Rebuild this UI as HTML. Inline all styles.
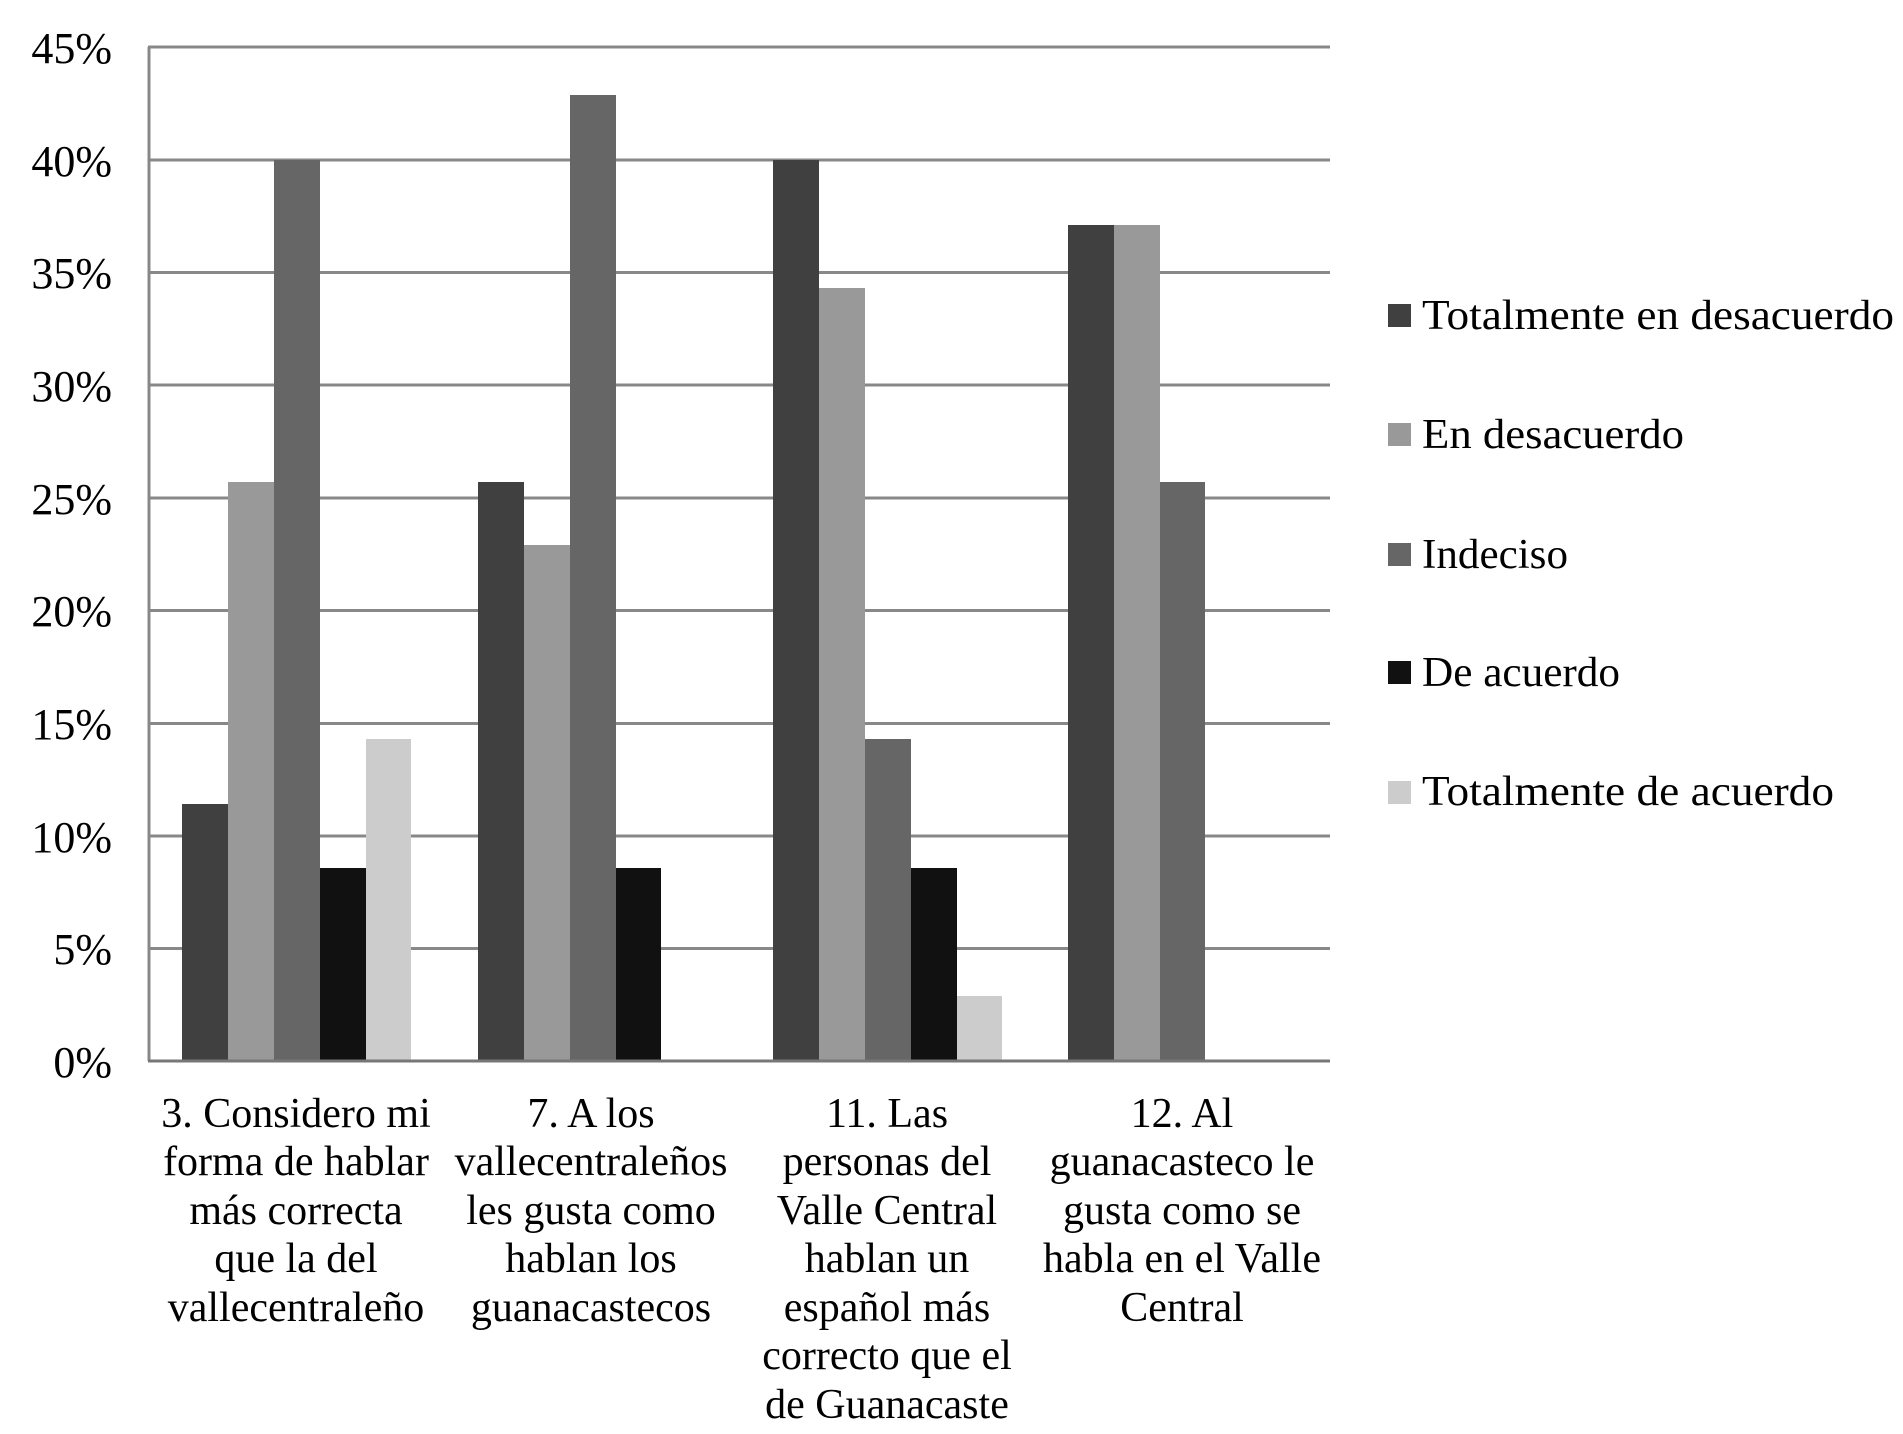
<!DOCTYPE html>
<html><head><meta charset="utf-8"><style>html,body{margin:0;padding:0;background:#fff}svg{display:block}text{font-family:"Liberation Serif",serif;fill:#000}</style></head><body>
<svg width="1903" height="1434" viewBox="0 0 1903 1434" xmlns="http://www.w3.org/2000/svg">
<g stroke="#888" stroke-width="3">
<line x1="148" y1="47" x2="1330" y2="47"/>
<line x1="148" y1="160" x2="1330" y2="160"/>
<line x1="148" y1="272.5" x2="1330" y2="272.5"/>
<line x1="148" y1="385" x2="1330" y2="385"/>
<line x1="148" y1="498" x2="1330" y2="498"/>
<line x1="148" y1="610.5" x2="1330" y2="610.5"/>
<line x1="148" y1="723.5" x2="1330" y2="723.5"/>
<line x1="148" y1="836" x2="1330" y2="836"/>
<line x1="148" y1="948.5" x2="1330" y2="948.5"/>
<line x1="149" y1="47" x2="149" y2="1061"/>
</g>
<g font-size="44" text-anchor="end">
<text x="112" y="63">45%</text><text x="112" y="176">40%</text><text x="112" y="288">35%</text><text x="112" y="401">30%</text><text x="112" y="514">25%</text><text x="112" y="626">20%</text><text x="112" y="739">15%</text><text x="112" y="852">10%</text><text x="112" y="964">5%</text><text x="112" y="1077">0%</text>
</g>
<g>
<rect x="182" y="804" width="46" height="257" fill="#404040"/>
<rect x="228" y="482" width="46" height="579" fill="#999"/>
<rect x="274" y="160" width="46" height="901" fill="#666"/>
<rect x="320" y="868" width="46" height="193" fill="#111"/>
<rect x="366" y="739" width="45" height="322" fill="#ccc"/>

<rect x="478" y="482" width="46" height="579" fill="#404040"/>
<rect x="524" y="545" width="46" height="516" fill="#999"/>
<rect x="570" y="95" width="46" height="966" fill="#666"/>
<rect x="616" y="868" width="45" height="193" fill="#111"/>

<rect x="773" y="160" width="46" height="901" fill="#404040"/>
<rect x="819" y="288" width="46" height="773" fill="#999"/>
<rect x="865" y="739" width="46" height="322" fill="#666"/>
<rect x="911" y="868" width="46" height="193" fill="#111"/>
<rect x="957" y="996" width="45" height="65" fill="#ccc"/>

<rect x="1068" y="225" width="46" height="836" fill="#404040"/>
<rect x="1114" y="225" width="46" height="836" fill="#999"/>
<rect x="1160" y="482" width="45" height="579" fill="#666"/>
</g>
<line x1="148" y1="1061" x2="1330" y2="1061" stroke="#777" stroke-width="3"/>
<g font-size="42" text-anchor="middle">
<text x="296" y="1127">3. Considero mi</text>
<text x="296" y="1175">forma de hablar</text>
<text x="296" y="1224">más correcta</text>
<text x="296" y="1272">que la del</text>
<text x="296" y="1321">vallecentraleño</text>

<text x="591" y="1127">7. A los</text>
<text x="591" y="1175">vallecentraleños</text>
<text x="591" y="1224">les gusta como</text>
<text x="591" y="1272">hablan los</text>
<text x="591" y="1321">guanacastecos</text>

<text x="887" y="1127">11. Las</text>
<text x="887" y="1175">personas del</text>
<text x="887" y="1224">Valle Central</text>
<text x="887" y="1272">hablan un</text>
<text x="887" y="1321">español más</text>
<text x="887" y="1369">correcto que el</text>
<text x="887" y="1418">de Guanacaste</text>

<text x="1182" y="1127">12. Al</text>
<text x="1182" y="1175">guanacasteco le</text>
<text x="1182" y="1224">gusta como se</text>
<text x="1182" y="1272">habla en el Valle</text>
<text x="1182" y="1321">Central</text>
</g>
<g>
<rect x="1388" y="304" width="23" height="23" fill="#404040"/>
<rect x="1388" y="423" width="23" height="23" fill="#999"/>
<rect x="1388" y="543" width="23" height="23" fill="#666"/>
<rect x="1388" y="661" width="23" height="23" fill="#111"/>
<rect x="1388" y="781" width="23" height="23" fill="#ccc"/>
</g>
<g font-size="42">
<text x="1422" y="329" textLength="472" lengthAdjust="spacingAndGlyphs">Totalmente en desacuerdo</text>
<text x="1422" y="448" textLength="262" lengthAdjust="spacingAndGlyphs">En desacuerdo</text>
<text x="1422" y="568" textLength="146" lengthAdjust="spacingAndGlyphs">Indeciso</text>
<text x="1422" y="686" textLength="198" lengthAdjust="spacingAndGlyphs">De acuerdo</text>
<text x="1422" y="805" textLength="412" lengthAdjust="spacingAndGlyphs">Totalmente de acuerdo</text>
</g>
</svg>
</body></html>
